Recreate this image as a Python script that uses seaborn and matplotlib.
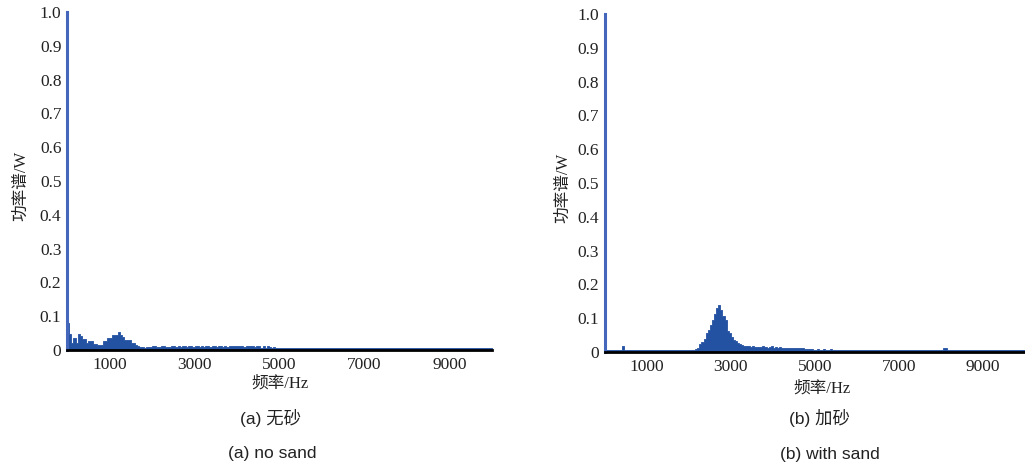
import numpy as np
import pandas as pd
import matplotlib
matplotlib.use("Agg")
import matplotlib.pyplot as plt
import seaborn as sns

# ---- data: power spectrum, 50 Hz bins from 0 Hz ----
bin_width_hz = 50
power_no_sand = [
    0.080, 0.047, 0.022, 0.036, 0.020, 0.047, 0.042, 0.032, 0.032, 0.022,
    0.027, 0.027, 0.017, 0.017, 0.015, 0.015, 0.015, 0.026, 0.026, 0.036,
    0.036, 0.043, 0.043, 0.043, 0.052, 0.045, 0.038, 0.031, 0.031, 0.031,
    0.022, 0.022, 0.014, 0.013, 0.010, 0.010, 0.007, 0.008, 0.010, 0.010,
    0.011, 0.012, 0.010, 0.008, 0.011, 0.012, 0.010, 0.010, 0.009, 0.011,
    0.012, 0.010, 0.011, 0.010, 0.012, 0.011, 0.010, 0.012, 0.011, 0.010,
    0.011, 0.012, 0.010, 0.011, 0.010, 0.012, 0.011, 0.010, 0.011, 0.012,
    0.010, 0.011, 0.012, 0.010, 0.011, 0.010, 0.012, 0.011, 0.013, 0.011,
    0.012, 0.011, 0.012, 0.010, 0.012, 0.013, 0.011, 0.012, 0.010, 0.012,
    0.011, 0.007, 0.012, 0.007, 0.011, 0.010, 0.007, 0.009, 0.006, 0.007,
    0.006, 0.007, 0.006, 0.006, 0.007, 0.006, 0.006, 0.007, 0.006, 0.006,
    0.007, 0.006, 0.006, 0.006, 0.007, 0.006, 0.006, 0.007, 0.006, 0.006,
    0.006, 0.007, 0.006, 0.006, 0.006, 0.007, 0.006, 0.006, 0.006, 0.007,
    0.006, 0.006, 0.007, 0.006, 0.006, 0.006, 0.007, 0.006, 0.006, 0.006,
    0.007, 0.006, 0.006, 0.006, 0.006, 0.007, 0.006, 0.006, 0.006, 0.006,
    0.006, 0.007, 0.006, 0.006, 0.006, 0.006, 0.007, 0.006, 0.006, 0.006,
    0.006, 0.006, 0.007, 0.006, 0.006, 0.006, 0.006, 0.006, 0.007, 0.006,
    0.006, 0.006, 0.006, 0.007, 0.006, 0.006, 0.006, 0.006, 0.006, 0.007,
    0.006, 0.006, 0.006, 0.006, 0.007, 0.006, 0.006, 0.006, 0.006, 0.006,
    0.007, 0.006, 0.006, 0.006, 0.006, 0.006, 0.007, 0.006, 0.006, 0.006,
]
power_with_sand = [
    0.006, 0.005, 0.006, 0.005, 0.005, 0.006, 0.005, 0.006, 0.018, 0.005,
    0.005, 0.006, 0.005, 0.005, 0.006, 0.005, 0.005, 0.006, 0.005, 0.005,
    0.006, 0.005, 0.005, 0.006, 0.005, 0.005, 0.006, 0.005, 0.005, 0.006,
    0.005, 0.005, 0.006, 0.005, 0.005, 0.006, 0.005, 0.005, 0.006, 0.005,
    0.005, 0.006, 0.005, 0.009, 0.013, 0.024, 0.030, 0.040, 0.057, 0.065,
    0.080, 0.095, 0.112, 0.130, 0.139, 0.125, 0.108, 0.095, 0.062, 0.057,
    0.045, 0.036, 0.033, 0.028, 0.025, 0.022, 0.018, 0.017, 0.018, 0.016,
    0.017, 0.015, 0.014, 0.015, 0.014, 0.018, 0.014, 0.013, 0.014, 0.017,
    0.013, 0.014, 0.013, 0.016, 0.013, 0.012, 0.013, 0.012, 0.013, 0.012,
    0.012, 0.012, 0.012, 0.011, 0.012, 0.009, 0.010, 0.008, 0.010, 0.007,
    0.006, 0.009, 0.006, 0.006, 0.010, 0.006, 0.006, 0.009, 0.006, 0.006,
    0.006, 0.006, 0.007, 0.006, 0.006, 0.006, 0.007, 0.006, 0.006, 0.006,
    0.006, 0.007, 0.006, 0.006, 0.006, 0.006, 0.007, 0.006, 0.006, 0.006,
    0.006, 0.006, 0.007, 0.006, 0.006, 0.006, 0.006, 0.007, 0.006, 0.006,
    0.006, 0.006, 0.006, 0.007, 0.006, 0.006, 0.006, 0.006, 0.006, 0.007,
    0.006, 0.006, 0.006, 0.006, 0.007, 0.006, 0.006, 0.006, 0.006, 0.006,
    0.007, 0.012, 0.012, 0.006, 0.006, 0.007, 0.006, 0.006, 0.006, 0.006,
    0.006, 0.007, 0.006, 0.006, 0.006, 0.006, 0.007, 0.006, 0.006, 0.006,
    0.006, 0.006, 0.007, 0.006, 0.006, 0.006, 0.006, 0.006, 0.007, 0.006,
    0.006, 0.006, 0.006, 0.007, 0.006, 0.006, 0.006, 0.006, 0.006, 0.007,
]
y_ticks = [0, 0.1, 0.2, 0.3, 0.4, 0.5, 0.6, 0.7, 0.8, 0.9, 1.0]
y_tick_labels = ["0", "0.1", "0.2", "0.3", "0.4", "0.5", "0.6", "0.7", "0.8", "0.9", "1.0"]
x_ticks = [1000, 2000, 3000, 4000, 5000, 6000, 7000, 8000, 9000, 10000]
x_tick_labels = ["1000", "", "3000", "", "5000", "", "7000", "", "9000", ""]
y_label = "功率谱/W"
x_label = "频率/Hz"
captions_cn = ["(a) 无砂", "(b) 加砂"]
captions_en = ["(a) no sand", "(b) with sand"]

sns.set_theme(style="white")
serif = ["Liberation Serif", "Noto Sans CJK SC"]
sans = ["Liberation Sans", "Noto Sans CJK SC"]
plt.rcParams["font.family"] = serif

BAR = "#2452a2"
YSPINE = "#4466bb"
TXT = "#222222"

fig = plt.figure(figsize=(10.25, 4.70), dpi=100)
ax1 = fig.add_axes([0.0654, 0.2553, 0.4146, 0.7192])
ax2 = fig.add_axes([0.5900, 0.2510, 0.4100, 0.7192])

panels = [(ax1, power_no_sand, 10000), (ax2, power_with_sand, 9850)]
for ax, power, xmax in panels:
    n = len(power)
    edges = np.arange(n + 1) * bin_width_hz
    df = pd.DataFrame({"freq": edges[:-1] + bin_width_hz / 2,
                       "power": np.asarray(power, dtype=float)})
    sns.histplot(data=df, x="freq", weights="power", bins=list(edges),
                 element="step", fill=True, color=BAR, alpha=1.0,
                 linewidth=0.6, edgecolor=BAR, ax=ax)
    ax.set_xlim(0, xmax)
    ax.set_ylim(0, 1.0)
    ax.set_yticks(y_ticks)
    ax.set_yticklabels(y_tick_labels, fontsize=12.5, family=serif)
    ax.set_xticks(x_ticks)
    ax.set_xticklabels(x_tick_labels, fontsize=12.5, family=serif)
    ax.tick_params(axis="both", direction="in", length=3.5, width=1.6,
                   color="black", pad=4, labelcolor=TXT)
    ax.tick_params(axis="x", pad=5)
    for s in ["top", "right"]:
        ax.spines[s].set_visible(False)
    ax.spines["left"].set_color(YSPINE)
    ax.spines["left"].set_linewidth(2.2)
    ax.spines["bottom"].set_color("black")
    ax.spines["bottom"].set_linewidth(2.0)
    ax.set_ylabel("")
    ax.set_xlabel("")
    ax.patch.set_alpha(0)

fig.text(0.021, 0.605, y_label, rotation=90, ha="center", va="center",
         fontsize=12, family=serif, color=TXT)
fig.text(0.549, 0.601, y_label, rotation=90, ha="center", va="center",
         fontsize=12, family=serif, color=TXT)
fig.text(0.273, 0.183, x_label, ha="center", va="center", fontsize=12,
         family=serif, color=TXT)
fig.text(0.802, 0.174, x_label, ha="center", va="center", fontsize=12,
         family=serif, color=TXT)

fig.text(0.264, 0.110, captions_cn[0], ha="center", va="center", fontsize=12.5,
         family=sans, color=TXT)
fig.text(0.799, 0.110, captions_cn[1], ha="center", va="center", fontsize=12.5,
         family=sans, color=TXT)
fig.text(0.266, 0.036, captions_en[0], ha="center", va="center", fontsize=12.5,
         family=sans, color=TXT)
fig.text(0.810, 0.032, captions_en[1], ha="center", va="center", fontsize=12.5,
         family=sans, color=TXT)

fig.savefig("out.png", dpi=100)
